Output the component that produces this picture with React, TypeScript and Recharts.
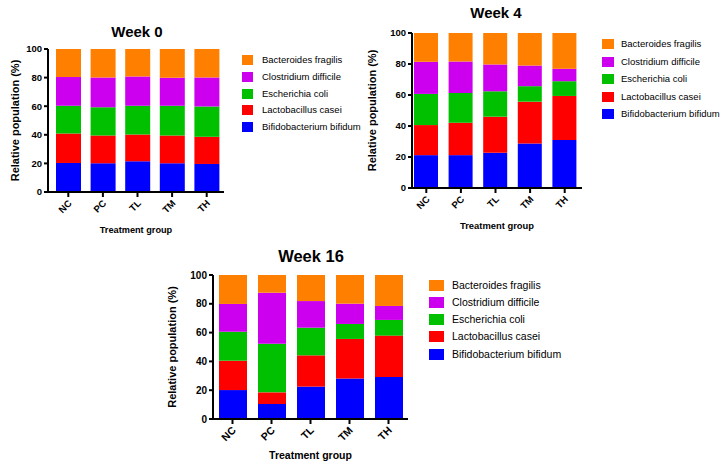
import React from 'react';
import { BarChart, Bar, XAxis, YAxis } from 'recharts';

const FONT = '"Liberation Sans", Arial, sans-serif';

const categories = ['NC', 'PC', 'TL', 'TM', 'TH'];
const species = ['Bifidobacterium bifidum', 'Lactobacillus casei', 'Escherichia coli', 'Clostridium difficile', 'Bacteroides fragilis'];
const colors = ['#0000FF', '#FF0000', '#00C000', '#CC00EE', '#FF8000'];
const yTicks = [0, 20, 40, 60, 80, 100];

// week 0, bottom to top of each stack
const w0Bifido = [20.3, 20.1, 21.5, 20.1, 19.6];
const w0Lacto = [20.6, 19.4, 18.7, 19.4, 19.0];
const w0Ecoli = [19.4, 19.8, 20.1, 20.8, 21.2];
const w0Clost = [20.1, 20.8, 20.5, 19.6, 20.3];
const w0Bacter = [19.6, 19.9, 19.2, 20.1, 19.9];

// week 4
const w4Bifido = [21.2, 21.2, 22.7, 28.7, 30.9];
const w4Lacto = [19.4, 20.9, 23.3, 27.0, 28.5];
const w4Ecoli = [20.1, 19.2, 16.4, 10.0, 9.5];
const w4Clost = [20.7, 20.3, 17.3, 13.3, 8.0];
const w4Bacter = [18.6, 18.4, 20.3, 21.0, 23.1];

// week 16
const w16Bifido = [20.1, 10.4, 22.5, 28.2, 29.2];
const w16Lacto = [20.4, 8.1, 21.7, 27.4, 28.7];
const w16Ecoli = [20.1, 33.8, 19.2, 10.4, 10.9];
const w16Clost = [19.3, 35.4, 18.5, 14.1, 9.7];
const w16Bacter = [20.1, 12.3, 18.1, 19.9, 21.5];

const toRows = (series: number[][]) =>
  categories.map((cat, i) => {
    const row: Record<string, string | number> = { cat };
    species.forEach((s, k) => { row[s] = series[k][i]; });
    return row;
  });

const week0 = toRows([w0Bifido, w0Lacto, w0Ecoli, w0Clost, w0Bacter]);
const week4 = toRows([w4Bifido, w4Lacto, w4Ecoli, w4Clost, w4Bacter]);
const week16 = toRows([w16Bifido, w16Lacto, w16Ecoli, w16Clost, w16Bacter]);

const RotTick = (props: any) => {
  const { x, y, payload, fs } = props;
  return (
    <g transform={`translate(${x + 4},${y + 5})`}>
      <text textAnchor="end" transform="rotate(-45)" fontSize={fs} fontWeight="bold" fontFamily={FONT} fill="#000">
        {payload.value}
      </text>
    </g>
  );
};

type Cfg = {
  axisX: number; plotTop: number; plotW: number; plotH: number; padL: number; barSize: number; yW: number;
  tickFs: number; xTickFs: number; xLabFs: number; xLabOffset: number;
  titleX: number; titleY: number; titleFs: number;
  legX: number; legW: number; legH: number; legTextX: number; legY: number; legGap: number; legFs: number;
};

function WeekChart({ title, rows, c }: { title: string; rows: any[]; c: Cfg }) {
  return (
    <>
      <div style={{ position: 'absolute', left: c.titleX - 60, width: 120, top: c.titleY - c.titleFs * 0.49, textAlign: 'center', fontFamily: FONT, fontWeight: 'bold', fontSize: c.titleFs, lineHeight: 1 }}>
        {title}
      </div>
      <div style={{ position: 'absolute', left: c.axisX - c.yW, top: c.plotTop - 10 }}>
        <BarChart width={c.yW + c.plotW + 6} height={10 + c.plotH + 52} data={rows} margin={{ top: 10, right: 6, left: 0, bottom: 0 }}>
          <XAxis
            dataKey="cat"
            height={52}
            interval={0}
            padding={{ left: c.padL, right: 0 }}
            stroke="#000"
            strokeWidth={2}
            tickSize={5}
            tick={<RotTick fs={c.xTickFs} />}
            label={{ value: 'Treatment group', position: 'insideBottom', offset: c.xLabOffset, style: { fontFamily: FONT, fontWeight: 'bold', fontSize: c.xLabFs, fill: '#000' } }}
          />
          <YAxis
            width={c.yW}
            domain={[0, 100]}
            ticks={yTicks}
            interval={0}
            stroke="#000"
            strokeWidth={2}
            tickSize={4}
            tick={{ fill: '#000', fontSize: c.tickFs, fontWeight: 'bold', fontFamily: FONT }}
            label={{ value: 'Relative population (%)', angle: -90, position: 'center', style: { fontFamily: FONT, fontWeight: 'bold', fontSize: 11, fill: '#000' } }}
          />
          {species.map((s, k) => (
            <Bar key={s} dataKey={s} stackId="a" fill={colors[k]} barSize={c.barSize} isAnimationActive={false} />
          ))}
        </BarChart>
      </div>
      {[...species].reverse().map((s, i) => {
        const cy = c.legY + i * c.legGap;
        return (
          <React.Fragment key={s}>
            <div style={{ position: 'absolute', left: c.legX, top: cy - c.legH / 2, width: c.legW, height: c.legH, background: colors[species.length - 1 - i] }} />
            <div style={{ position: 'absolute', left: c.legTextX, top: cy - c.legFs * 0.52, fontFamily: FONT, fontSize: c.legFs, lineHeight: 1, whiteSpace: 'nowrap', color: '#000' }}>
              {s}
            </div>
          </React.Fragment>
        );
      })}
    </>
  );
}

const cfg0: Cfg = {
  axisX: 48, plotTop: 49, plotW: 176, plotH: 143, padL: 3, barSize: 25, yW: 66,
  tickFs: 9.5, xTickFs: 9.5, xLabFs: 9.2, xLabOffset: 11,
  titleX: 137, titleY: 31, titleFs: 15,
  legX: 242, legW: 11, legH: 10, legTextX: 262, legY: 60, legGap: 16.75, legFs: 9.5,
};
const cfg4: Cfg = {
  axisX: 412, plotTop: 33, plotW: 170, plotH: 155, padL: -3, barSize: 24, yW: 80,
  tickFs: 9.5, xTickFs: 9.5, xLabFs: 9.4, xLabOffset: 11,
  titleX: 496, titleY: 12.5, titleFs: 15,
  legX: 602, legW: 12, legH: 10, legTextX: 621, legY: 44, legGap: 17.5, legFs: 9.5,
};
const cfg16: Cfg = {
  axisX: 213, plotTop: 275, plotW: 195, plotH: 144, padL: 0, barSize: 28, yW: 82,
  tickFs: 10, xTickFs: 10.5, xLabFs: 10.5, xLabOffset: 12,
  titleX: 311, titleY: 256, titleFs: 16.5,
  legX: 429, legW: 15, legH: 11, legTextX: 452, legY: 285, legGap: 17.25, legFs: 10.5,
};

export default function App() {
  return (
    <div style={{ position: 'absolute', left: 0, top: 0, width: 726, height: 467, background: '#fff', overflow: 'hidden' }}>
      <WeekChart title="Week 0" rows={week0} c={cfg0} />
      <WeekChart title="Week 4" rows={week4} c={cfg4} />
      <WeekChart title="Week 16" rows={week16} c={cfg16} />
    </div>
  );
}
